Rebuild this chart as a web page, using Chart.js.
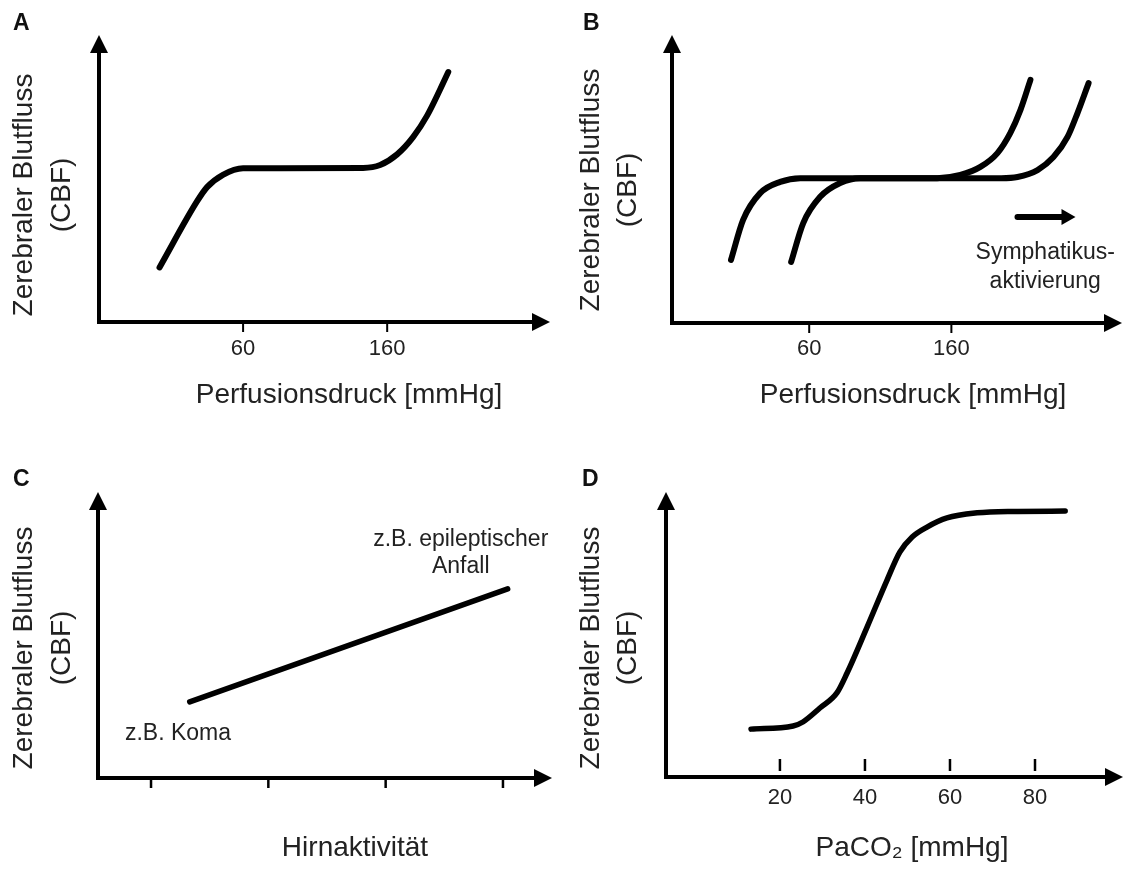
<!DOCTYPE html>
<html lang="de">
<head>
<meta charset="UTF-8">
<title>Zerebraler Blutfluss</title>
<style>
  body { margin: 0; background: #fff; }
  #page { position: relative; width: 1128px; height: 869px; }
  .panel { position: absolute; }
</style>
</head>
<body>
<div id="page">
  <div class="panel" style="left:0;top:0;width:564px;height:434px"><canvas id="chart-a"></canvas></div>
  <div class="panel" style="left:564px;top:0;width:564px;height:434px"><canvas id="chart-b"></canvas></div>
  <div class="panel" style="left:0;top:434px;width:564px;height:435px"><canvas id="chart-c"></canvas></div>
  <div class="panel" style="left:564px;top:434px;width:564px;height:435px"><canvas id="chart-d"></canvas></div>
</div>

<script src="https://cdn.jsdelivr.net/npm/chart.js"></script>
<script>
// --- data (x in axis units, y = relative CBF 0..100) ---
const perfusionTicks = [60, 160];

const curveAx = [2, 28, 35, 46, 60, 86, 143.3, 155.1, 166.9, 178.1, 187.8, 196.8, 202.4];
const curveAy = [19, 42, 47, 51.3, 53.6, 53.6, 53.7, 54.7, 58.4, 64.5, 72, 81.1, 87.1];

const curveB1x = [5, 13.5, 25.5, 39.6, 53.7, 100, 150, 166.3, 180.4, 192.4, 201.5, 208.6, 215.6];
const curveB1y = [21.9, 35.8, 45.1, 49, 50.3, 50.3, 50.3, 51.4, 54.2, 59, 66, 74, 84.4];
const curveB2x = [47.3, 55.8, 67.7, 81.8, 95.9, 150, 195, 206.5, 220.6, 231.8, 241.7, 248.7, 256.5];
const curveB2y = [21.2, 34.7, 43.8, 48.6, 50.3, 50.3, 50.3, 50.7, 53.1, 57.6, 64.6, 72.9, 83.3];
const shiftArrowX = [206.5, 247.3];
const shiftArrowY = 36.8;

const activityTicks = [1, 2, 3, 4];
const lineCx = [1.33, 4.04];
const lineCy = [26.6, 66.1];

const paco2Ticks = [20, 40, 60, 80];
const curveDx = [13.2, 23.1, 25.4, 29.4, 33.4, 35.8, 40.5, 45.2, 48.2, 51.1, 54.6, 59.3, 66.4, 74.1, 87.1];
const curveDy = [16.8, 17.9, 19.3, 24.2, 29.5, 36.5, 52.6, 69.1, 78.9, 84.2, 87.7, 90.9, 92.7, 93.2, 93.3];

const yTitle = ['Zerebraler Blutfluss', '(CBF)'];
const pressureTitle = 'Perfusionsdruck [mmHg]';
const activityTitle = 'Hirnaktivität';
const paco2Title = 'PaCO\u2082 [mmHg]';

// --- drawing ---
const FONT = '"Liberation Sans", Arial, sans-serif';
const TEXT = '#222';

const sketch = {
  id: 'sketch',
  afterDraw(chart, args, o) {
    const { ctx, chartArea: a, scales: { x, y } } = chart;
    ctx.save();
    ctx.strokeStyle = '#000';
    ctx.fillStyle = '#000';

    // axes with arrow heads
    ctx.lineWidth = 4;
    ctx.lineJoin = 'miter';
    ctx.beginPath();
    ctx.moveTo(a.left, a.top + 16);
    ctx.lineTo(a.left, a.bottom);
    ctx.lineTo(a.right - 16, a.bottom);
    ctx.stroke();
    ctx.beginPath();
    ctx.moveTo(a.left, a.top);
    ctx.lineTo(a.left - 9, a.top + 18);
    ctx.lineTo(a.left + 9, a.top + 18);
    ctx.closePath();
    ctx.fill();
    ctx.beginPath();
    ctx.moveTo(a.right, a.bottom);
    ctx.lineTo(a.right - 18, a.bottom - 9);
    ctx.lineTo(a.right - 18, a.bottom + 9);
    ctx.closePath();
    ctx.fill();

    // ticks
    ctx.lineWidth = o.tickWidth;
    o.ticks.forEach(v => {
      const px = x.getPixelForValue(v);
      ctx.beginPath();
      ctx.moveTo(px, a.bottom + o.tickFrom);
      ctx.lineTo(px, a.bottom + o.tickTo);
      ctx.stroke();
    });

    ctx.fillStyle = TEXT;
    ctx.textAlign = 'center';
    ctx.textBaseline = 'middle';
    if (o.tickLabels) {
      ctx.font = '22px ' + FONT;
      o.ticks.forEach(v => ctx.fillText(String(v), x.getPixelForValue(v), o.tickLabelY));
    }

    // axis titles
    ctx.font = '28px ' + FONT;
    ctx.fillText(o.xTitle, o.xTitlePos[0], o.xTitlePos[1]);
    yTitle.forEach((line, i) => {
      ctx.save();
      ctx.translate(o.yTitleX[i], o.yTitleY);
      ctx.rotate(-Math.PI / 2);
      ctx.fillText(line, 0, 0);
      ctx.restore();
    });

    // annotations
    ctx.font = '23px ' + FONT;
    (o.notes || []).forEach(n => ctx.fillText(n.text, x.getPixelForValue(n.x), y.getPixelForValue(n.y)));

    if (o.shift) {
      const x0 = x.getPixelForValue(o.shift.from);
      const x1 = x.getPixelForValue(o.shift.to);
      const py = y.getPixelForValue(o.shift.at);
      ctx.strokeStyle = '#000';
      ctx.fillStyle = '#000';
      ctx.lineWidth = 6;
      ctx.lineCap = 'round';
      ctx.beginPath();
      ctx.moveTo(x0, py);
      ctx.lineTo(x1 - 12, py);
      ctx.stroke();
      ctx.beginPath();
      ctx.moveTo(x1, py);
      ctx.lineTo(x1 - 14, py - 8);
      ctx.lineTo(x1 - 14, py + 8);
      ctx.closePath();
      ctx.fill();
    }

    // panel letter
    ctx.fillStyle = '#111';
    ctx.font = 'bold 23px ' + FONT;
    ctx.textAlign = 'left';
    ctx.textBaseline = 'alphabetic';
    ctx.fillText(o.letter, o.letterPos[0], o.letterPos[1]);
    ctx.restore();
  }
};

function series(xs, ys, width, smooth) {
  return {
    data: xs.map((v, i) => ({ x: v, y: ys[i] })),
    borderColor: '#000',
    borderWidth: width,
    borderCapStyle: 'round',
    borderJoinStyle: 'round',
    pointRadius: 0,
    fill: false,
    tension: 0,
    cubicInterpolationMode: smooth ? 'monotone' : 'default'
  };
}

function makeChart(id, xRange, padding, datasets, deco) {
  return new Chart(document.getElementById(id), {
    type: 'line',
    data: { datasets },
    options: {
      responsive: true,
      maintainAspectRatio: false,
      animation: false,
      events: [],
      layout: { padding },
      scales: {
        x: { type: 'linear', display: false, min: xRange[0], max: xRange[1] },
        y: { type: 'linear', display: false, min: 0, max: 100 }
      },
      plugins: { legend: { display: false }, tooltip: { enabled: false }, sketch: deco }
    },
    plugins: [sketch]
  });
}

makeChart('chart-a', [-40, 273], { left: 99, top: 35, right: 14, bottom: 112 },
  [series(curveAx, curveAy, 6, true)],
  {
    letter: 'A', letterPos: [13, 30],
    ticks: perfusionTicks, tickLabels: true, tickFrom: 0, tickTo: 10, tickWidth: 2, tickLabelY: 349,
    xTitle: pressureTitle, xTitlePos: [349, 395],
    yTitleX: [24, 62], yTitleY: 195
  });

makeChart('chart-b', [-36.5, 280], { left: 108, top: 35, right: 6, bottom: 111 },
  [series(curveB1x, curveB1y, 6, true), series(curveB2x, curveB2y, 6, true)],
  {
    letter: 'B', letterPos: [19, 30],
    ticks: perfusionTicks, tickLabels: true, tickFrom: 0, tickTo: 10, tickWidth: 2, tickLabelY: 349,
    xTitle: pressureTitle, xTitlePos: [349, 395],
    yTitleX: [27, 64], yTitleY: 190,
    notes: [{ text: 'Symphatikus-', x: 226, y: 24.3 }, { text: 'aktivierung', x: 226, y: 14.2 }],
    shift: { from: shiftArrowX[0], to: shiftArrowX[1], at: shiftArrowY }
  });

makeChart('chart-c', [0.548, 4.418], { left: 98, top: 58, right: 12, bottom: 91 },
  [series(lineCx, lineCy, 5.5, false)],
  {
    letter: 'C', letterPos: [13, 52],
    ticks: activityTicks, tickLabels: false, tickFrom: 0, tickTo: 10, tickWidth: 2.5,
    xTitle: activityTitle, xTitlePos: [355, 414],
    yTitleX: [24, 62], yTitleY: 214,
    notes: [
      { text: 'z.B. Koma', x: 1.23, y: 15.4 },
      { text: 'z.B. epileptischer', x: 3.64, y: 83.2 },
      { text: 'Anfall', x: 3.64, y: 73.8 }
    ]
  });

makeChart('chart-d', [-6.8, 100.7], { left: 102, top: 58, right: 5, bottom: 92 },
  [series(curveDx, curveDy, 5.5, true)],
  {
    letter: 'D', letterPos: [18, 52],
    ticks: paco2Ticks, tickLabels: true, tickFrom: -18, tickTo: -6, tickWidth: 2.5, tickLabelY: 364,
    xTitle: paco2Title, xTitlePos: [348, 414],
    yTitleX: [27, 64], yTitleY: 214
  });
</script>
</body>
</html>
